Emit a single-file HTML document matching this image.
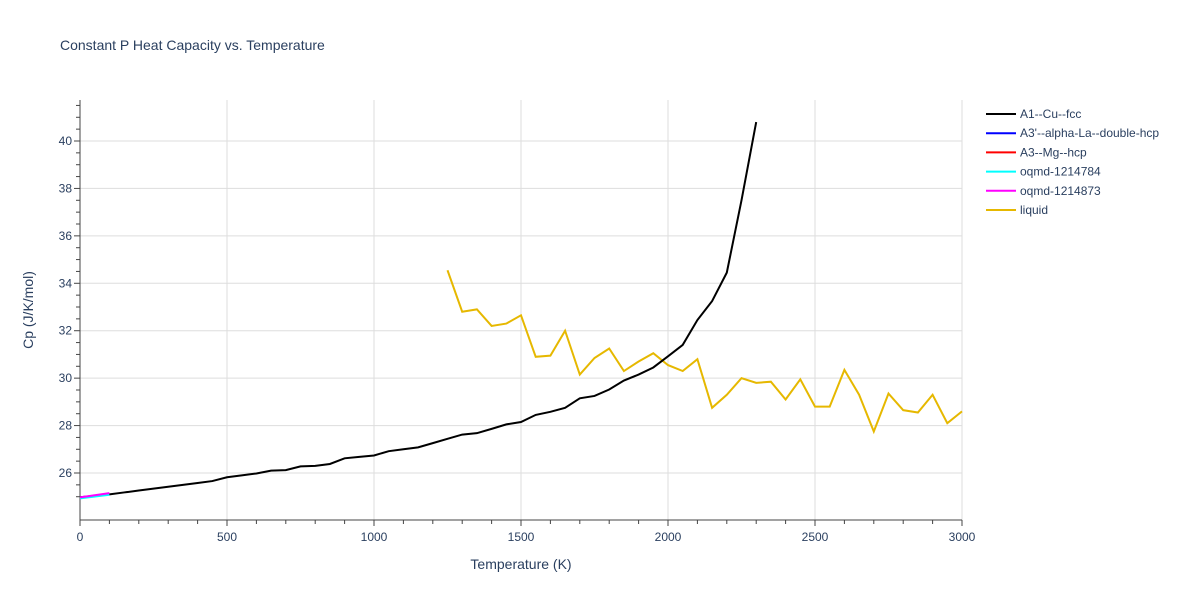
<!DOCTYPE html>
<html><head><meta charset="utf-8"><style>
body{margin:0;background:#fff;font-family:"Liberation Sans",sans-serif;}
svg text{font-family:"Liberation Sans",sans-serif;fill:#2a3f5f;}
</style></head><body>
<svg id="chart" width="1200" height="600">
<text x="60" y="50" font-size="14">Constant P Heat Capacity vs. Temperature</text>
<g id="grid"></g><g id="axes"></g><g id="series"></g><g id="legend"></g>
<text x="521" y="569" font-size="14" text-anchor="middle">Temperature (K)</text>
<text transform="translate(33,310) rotate(-90)" font-size="14" text-anchor="middle">Cp (J/K/mol)</text>
</svg>
<script>
const xTicks=[0,500,1000,1500,2000,2500,3000];
const yTicks=[26,28,30,32,34,36,38,40];
const fccT=[0,100,150,200,250,300,350,400,450,500,550,600,650,700,750,800,850,900,950,1000,1050,1100,1150,1200,1250,1300,1350,1400,1450,1500,1550,1600,1650,1700,1750,1800,1850,1900,1950,2000,2050,2100,2150,2200,2250,2300];
const fccCp=[24.98,25.1,25.18,25.26,25.34,25.42,25.5,25.58,25.66,25.82,25.9,25.98,26.1,26.12,26.28,26.3,26.38,26.62,26.68,26.74,26.92,27.0,27.08,27.26,27.44,27.62,27.68,27.86,28.05,28.15,28.45,28.58,28.75,29.15,29.25,29.52,29.9,30.15,30.45,30.92,31.4,32.45,33.25,34.45,37.5,40.8];
const shortT=[0,100];
const cyanCp=[24.93,25.08];
const magCp=[24.97,25.15];
const liqT=[1250,1300,1350,1400,1450,1500,1550,1600,1650,1700,1750,1800,1850,1900,1950,2000,2050,2100,2150,2200,2250,2300,2350,2400,2450,2500,2550,2600,2650,2700,2750,2800,2850,2900,2950,3000];
const liqCp=[34.55,32.8,32.9,32.2,32.3,32.65,30.9,30.95,32.0,30.15,30.85,31.25,30.3,30.7,31.05,30.55,30.3,30.8,28.75,29.3,30.0,29.8,29.85,29.1,29.95,28.8,28.8,30.35,29.3,27.75,29.35,28.65,28.55,29.3,28.1,28.6];
const NS='http://www.w3.org/2000/svg';
const L=80,R=962,T=100,B=520;
const xs=v=>L+v/3000*(R-L);
const ys=v=>473-(v-26)*(332/14);
function mk(tag,attrs,parent){const e=document.createElementNS(NS,tag);for(const k in attrs)e.setAttribute(k,attrs[k]);parent.appendChild(e);return e;}
const g=document.getElementById('grid'),ax=document.getElementById('axes'),s=document.getElementById('series'),lg=document.getElementById('legend');
xTicks.forEach(t=>{
 const l=mk('line',{x1:xs(t),x2:xs(t),y1:T,y2:B,stroke:'#ddd'},g);
 
 
 const tx=mk('text',{x:xs(t),y:541,'font-size':12,'text-anchor':'middle'},ax);tx.textContent=t;
 
 
});
for(let t=0;t<=3000;t+=100){mk('line',{x1:xs(t),x2:xs(t),y1:B,y2:B+(t%500?4:6),stroke:'#444'},ax);}
yTicks.forEach(t=>{
 const l=mk('line',{x1:L,x2:R,y1:ys(t),y2:ys(t),stroke:'#ddd'},g);
 
 
 const tx=mk('text',{x:L-8,y:ys(t)+4,'font-size':12,'text-anchor':'end'},ax);tx.textContent=t;
 
 
});
for(let t=25;t<=41.5;t+=0.5){if(ys(t)>=T&&ys(t)<=B)mk('line',{x1:L-(t%2?4:6),x2:L,y1:ys(t),y2:ys(t),stroke:'#444'},ax);}
mk('line',{x1:L,x2:L,y1:T,y2:B,stroke:'#444'},ax);
mk('line',{x1:L,x2:R,y1:B,y2:B,stroke:'#444'},ax);
function line(xsA,ysA,c,name){const p=mk('polyline',{points:xsA.map((x,i)=>xs(x)+','+ys(ysA[i])).join(' '),fill:'none',stroke:c,'stroke-width':2},s);
 
 }
line(liqT,liqCp,'#e6b800','liquid-line');
line(fccT,fccCp,'#000','fcc-line');
line(shortT,cyanCp,'cyan','oqmd-1214784-line');
line(shortT,magCp,'magenta','oqmd-1214873-line');
const leg=[["A1--Cu--fcc","#000"],["A3'--alpha-La--double-hcp","#0000ff"],["A3--Mg--hcp","#ff0000"],["oqmd-1214784","cyan"],["oqmd-1214873","magenta"],["liquid","#e6b800"]];
leg.forEach((e,i)=>{const y=114+i*19.2;
 const gg=mk('g',{},lg);
 
 
 mk('line',{x1:986,x2:1016,y1:y,y2:y,stroke:e[1],'stroke-width':2},gg);
 const t=mk('text',{x:1020,y:y+4,'font-size':12},gg);t.textContent=e[0];});
</script>
</body></html>
